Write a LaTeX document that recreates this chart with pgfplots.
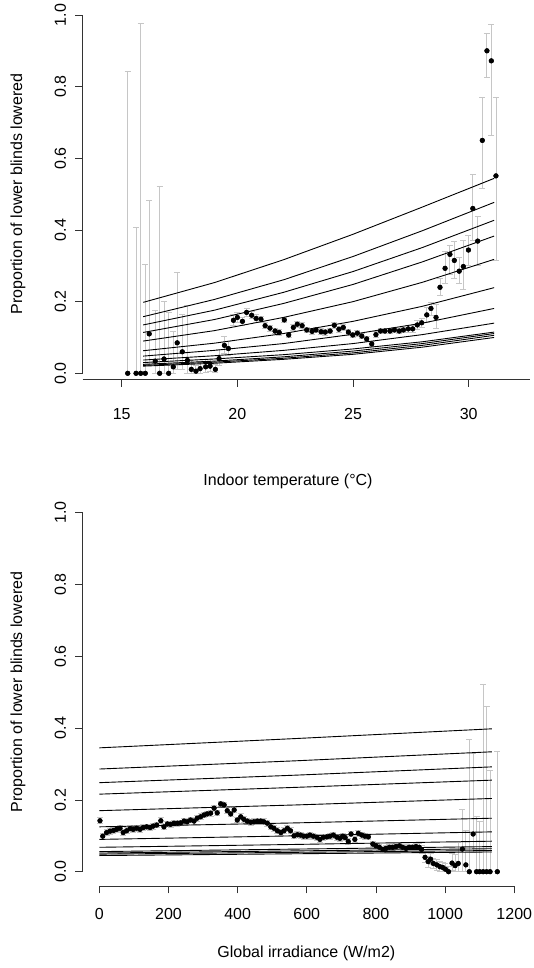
\documentclass[border=0pt]{standalone}
\usepackage{fontspec}
\setmainfont{Liberation Sans}
\usepackage{pgfplots}
\usepackage{pgfplotstable}
\pgfplotsset{compat=1.18}

% ---------- top panel: observed proportions with intervals ----------
\pgfplotstableread[row sep=\\]{
x y ep em\\
15.26 0 0.842 0\\
15.62 0 0.406 0\\
15.82 0 0.975 0\\
16.02 0 0.305 0\\
16.19 0.110 0.373 0.085\\
16.45 0.034 0.141 0.034\\
16.64 0 0.521 0\\
16.83 0.040 0.160 0.040\\
17.03 0 0.169 0\\
17.23 0.018 0.100 0.018\\
17.40 0.085 0.196 0.074\\
17.62 0.060 0.105 0.050\\
17.84 0.036 0.153 0.036\\
18.01 0.011 0.025 0.011\\
18.21 0.006 0.015 0.006\\
18.39 0.013 0.020 0.013\\
18.63 0.018 0.020 0.015\\
18.82 0.020 0.020 0.015\\
19.05 0.011 0.015 0.010\\
19.21 0.041 0.025 0.020\\
19.44 0.078 0.026 0.022\\
19.61 0.069 0.020 0.018\\
19.83 0.148 0.017 0.015\\
20.00 0.156 0.014 0.013\\
20.22 0.145 0.012 0.011\\
20.40 0.170 0.012 0.011\\
20.62 0.162 0.010 0.010\\
20.81 0.153 0.010 0.010\\
21.02 0.151 0.009 0.009\\
21.20 0.133 0.008 0.008\\
21.41 0.126 0.008 0.008\\
21.63 0.118 0.008 0.008\\
21.81 0.114 0.008 0.008\\
22.03 0.149 0.008 0.008\\
22.22 0.107 0.008 0.008\\
22.42 0.128 0.008 0.008\\
22.59 0.137 0.008 0.008\\
22.80 0.133 0.008 0.008\\
23.00 0.121 0.008 0.008\\
23.23 0.117 0.008 0.008\\
23.40 0.121 0.008 0.008\\
23.62 0.116 0.008 0.008\\
23.80 0.115 0.008 0.008\\
24.01 0.118 0.008 0.008\\
24.19 0.134 0.008 0.008\\
24.39 0.123 0.008 0.008\\
24.58 0.128 0.008 0.008\\
24.80 0.115 0.008 0.008\\
24.99 0.107 0.008 0.008\\
25.19 0.112 0.008 0.008\\
25.38 0.104 0.008 0.008\\
25.59 0.096 0.008 0.008\\
25.81 0.082 0.008 0.008\\
25.99 0.108 0.008 0.008\\
26.19 0.118 0.008 0.008\\
26.38 0.118 0.008 0.008\\
26.60 0.118 0.008 0.008\\
26.79 0.121 0.008 0.008\\
27.00 0.118 0.008 0.008\\
27.18 0.121 0.008 0.008\\
27.39 0.124 0.010 0.010\\
27.58 0.124 0.010 0.010\\
27.78 0.135 0.012 0.012\\
27.97 0.141 0.012 0.012\\
28.19 0.163 0.020 0.020\\
28.37 0.181 0.016 0.020\\
28.59 0.156 0.035 0.030\\
28.76 0.240 0.025 0.022\\
28.98 0.293 0.046 0.042\\
29.19 0.332 0.026 0.055\\
29.38 0.315 0.054 0.050\\
29.59 0.285 0.038 0.034\\
29.77 0.298 0.072 0.064\\
29.99 0.344 0.041 0.042\\
30.18 0.460 0.096 0.088\\
30.39 0.369 0.068 0.067\\
30.59 0.650 0.119 0.134\\
30.79 0.900 0.049 0.074\\
30.98 0.872 0.102 0.207\\
31.18 0.551 0.218 0.235\\
}\toptable

% ---------- top panel: fitted curves ----------
\pgfplotstableread[row sep=\\]{
x l1 l2 l3 l4 l5 l6 l7 l8 l9 l10 l11 l12\\
15.93 0.198 0.158 0.135 0.114 0.090 0.063 0.048 0.037 0.030 0.025 0.022 0.020\\
19.00 0.253 0.206 0.176 0.150 0.119 0.084 0.064 0.049 0.040 0.034 0.031 0.028\\
22.00 0.317 0.261 0.226 0.195 0.156 0.111 0.083 0.064 0.052 0.046 0.042 0.039\\
25.00 0.388 0.326 0.284 0.248 0.200 0.145 0.109 0.083 0.068 0.062 0.057 0.053\\
28.00 0.464 0.398 0.351 0.311 0.254 0.187 0.140 0.108 0.088 0.083 0.078 0.073\\
31.10 0.544 0.477 0.427 0.383 0.318 0.239 0.181 0.140 0.115 0.111 0.106 0.100\\
}\toplines

% ---------- bottom panel: observed proportions with intervals ----------
\pgfplotstableread[row sep=\\]{
x y ep em\\
2 0.142 0.008 0.008\\
10 0.099 0.008 0.008\\
21 0.109 0.008 0.008\\
31 0.113 0.008 0.008\\
41 0.115 0.008 0.008\\
50 0.118 0.008 0.008\\
60 0.121 0.008 0.008\\
69 0.109 0.008 0.008\\
79 0.114 0.008 0.008\\
89 0.120 0.008 0.008\\
98 0.118 0.008 0.008\\
108 0.121 0.008 0.008\\
118 0.118 0.008 0.008\\
127 0.123 0.008 0.008\\
137 0.125 0.008 0.008\\
147 0.123 0.008 0.008\\
156 0.127 0.008 0.008\\
166 0.130 0.008 0.008\\
178 0.142 0.008 0.008\\
187 0.125 0.008 0.008\\
197 0.133 0.008 0.008\\
206 0.132 0.008 0.008\\
216 0.135 0.008 0.008\\
226 0.135 0.008 0.008\\
235 0.136 0.008 0.008\\
245 0.141 0.008 0.008\\
254 0.139 0.008 0.008\\
264 0.144 0.008 0.008\\
274 0.141 0.008 0.008\\
283 0.149 0.008 0.008\\
293 0.153 0.008 0.008\\
303 0.158 0.008 0.008\\
312 0.161 0.008 0.008\\
322 0.163 0.008 0.008\\
332 0.177 0.008 0.008\\
341 0.164 0.008 0.008\\
351 0.189 0.008 0.008\\
361 0.186 0.008 0.008\\
370 0.170 0.008 0.008\\
380 0.161 0.008 0.008\\
390 0.172 0.008 0.008\\
399 0.144 0.008 0.008\\
409 0.153 0.008 0.008\\
418 0.146 0.008 0.008\\
428 0.141 0.008 0.008\\
438 0.138 0.008 0.008\\
447 0.139 0.008 0.008\\
457 0.141 0.008 0.008\\
467 0.141 0.008 0.008\\
476 0.139 0.008 0.008\\
486 0.135 0.008 0.008\\
496 0.125 0.008 0.008\\
505 0.121 0.008 0.008\\
515 0.114 0.008 0.008\\
525 0.109 0.008 0.008\\
534 0.114 0.008 0.008\\
544 0.121 0.008 0.008\\
553 0.114 0.008 0.008\\
563 0.100 0.008 0.008\\
573 0.103 0.008 0.008\\
582 0.102 0.008 0.008\\
591 0.099 0.008 0.008\\
600 0.099 0.008 0.008\\
609 0.102 0.008 0.008\\
619 0.099 0.008 0.008\\
629 0.096 0.008 0.008\\
638 0.090 0.008 0.008\\
648 0.096 0.008 0.008\\
658 0.097 0.008 0.008\\
667 0.099 0.008 0.008\\
677 0.102 0.008 0.008\\
687 0.096 0.008 0.008\\
696 0.093 0.008 0.008\\
704 0.099 0.008 0.008\\
711 0.095 0.008 0.008\\
720 0.084 0.008 0.008\\
728 0.105 0.008 0.008\\
739 0.090 0.008 0.008\\
749 0.107 0.008 0.008\\
759 0.102 0.008 0.008\\
768 0.099 0.008 0.008\\
778 0.097 0.008 0.008\\
791 0.077 0.008 0.008\\
800 0.072 0.008 0.008\\
810 0.068 0.008 0.008\\
820 0.062 0.008 0.008\\
829 0.065 0.008 0.008\\
839 0.068 0.008 0.008\\
848 0.068 0.008 0.008\\
858 0.070 0.008 0.008\\
868 0.072 0.008 0.008\\
877 0.068 0.008 0.008\\
887 0.065 0.008 0.008\\
896 0.068 0.008 0.008\\
906 0.068 0.008 0.008\\
916 0.070 0.008 0.008\\
925 0.068 0.010 0.010\\
932 0.062 0.010 0.010\\
942 0.040 0.015 0.015\\
951 0.028 0.015 0.015\\
958 0.035 0.015 0.015\\
966 0.023 0.015 0.015\\
976 0.019 0.015 0.015\\
985 0.014 0.015 0.014\\
993 0.012 0.015 0.012\\
1001 0.007 0.015 0.007\\
1010 0.000 0.015 0.000\\
1020 0.024 0.028 0.020\\
1029 0.017 0.030 0.017\\
1038 0.023 0.058 0.023\\
1050 0.063 0.111 0.063\\
1060 0.019 0.097 0.019\\
1070 0.000 0.369 0.000\\
1081 0.105 0.225 0.050\\
1091 0.000 0.153 0.000\\
1100 0.000 0.141 0.000\\
1110 0.000 0.522 0.000\\
1120 0.000 0.460 0.000\\
1130 0.000 0.283 0.000\\
1151 0.000 0.334 0.000\\
}\bottable

% ---------- bottom panel: fitted lines ----------
\pgfplotstableread[row sep=\\]{
x l1 l2 l3 l4 l5 l6 l7 l8 l9 l10 l11 l12\\
0 0.345 0.286 0.248 0.216 0.170 0.125 0.090 0.068 0.056 0.052 0.049 0.045\\
570 0.371 0.309 0.269 0.235 0.186 0.136 0.100 0.076 0.063 0.058 0.054 0.050\\
1135 0.398 0.334 0.292 0.255 0.204 0.149 0.111 0.085 0.070 0.064 0.059 0.055\\
}\botlines

\pgfplotsset{
  rstyle/.style={
    scale only axis, clip=false,
    axis lines*=left,
    axis line style={draw=none},
    tick align=outside,
    major tick length=7.5pt,
    tick style={black!80, line width=0.8pt},
    tick label style={font=\fontsize{16}{19}\selectfont},
    label style={font=\fontsize{16}{19}\selectfont},
    /pgf/number format/assume math mode=true,
    scaled ticks=false,
    ytick={0,0.2,0.4,0.6,0.8,1},
    yticklabels={0.0,0.2,0.4,0.6,0.8,1.0},
    yticklabel style={rotate=90, anchor=south, inner sep=9pt},
    xticklabel style={anchor=north},
  },
  ebar/.style={only marks, mark=none, forget plot,
    error bars/.cd, y dir=both, y explicit,
    error bar style={draw=gray!45, line width=0.9pt},
    error mark options={rotate=90, draw=gray!45, mark size=3pt, line width=0.9pt}},
  fit/.style={black, line width=0.9pt, mark=none, forget plot},
  dots/.style={only marks, mark=*, mark size=2.4pt, black, fill=black, forget plot},
}

\begin{document}
\begin{tikzpicture}
\useasboundingbox (0,0) rectangle (533pt,968pt);

% ================= top panel =================
\begin{axis}[rstyle,
  at={(82.7pt,588.7pt)}, anchor=south west,
  width=447.3pt, height=364.3pt,
  xmin=13.314, xmax=32.652, ymin=-0.0167, ymax=1,
  xtick={15,20,25,30},
  xticklabel style={yshift=-18pt},
  xlabel={Indoor temperature (°C)},
  xlabel style={at={(axis description cs:0.459,-0.28)}, anchor=center},
  ylabel={Proportion of lower blinds lowered},
  ylabel style={at={(axis description cs:-0.1446,0.5087)}, anchor=center, rotate=0},
]
\addplot[ebar] table[x=x, y=y, y error plus=ep, y error minus=em] {\toptable};
\foreach \c in {l1,l2,l3,l4,l5,l6,l7,l8,l9,l10,l11,l12}{
  \addplot[fit] table[x=x, y=\c] {\toplines};
}
\addplot[dots] table[x=x, y=y] {\toptable};
\draw[black!80, line width=0.8pt] (13.314,-0.0167) -- (32.652,-0.0167);
\draw[black!80, line width=0.8pt] (13.314,0) -- (13.314,1);
\end{axis}

% ================= bottom panel =================
\begin{axis}[rstyle,
  at={(82.7pt,82pt)}, anchor=south west,
  width=447.3pt, height=373.3pt,
  xmin=-48, xmax=1245.5, ymin=-0.0398, ymax=1,
  xtick={0,200,400,600,800,1000,1200},
  xticklabels={0,200,400,600,800,1000,1200},
  xticklabel style={yshift=-11.5pt},
  xlabel={Global irradiance (W/m2)},
  xlabel style={at={(axis description cs:0.5,-0.18)}, anchor=center},
  ylabel={Proportion of lower blinds lowered},
  ylabel style={at={(axis description cs:-0.1446,0.5197)}, anchor=center, rotate=0},
]
\addplot[ebar] table[x=x, y=y, y error plus=ep, y error minus=em] {\bottable};
\foreach \c in {l1,l2,l3,l4,l5,l6,l7,l8,l9,l10,l11,l12}{
  \addplot[fit] table[x=x, y=\c] {\botlines};
}
\addplot[dots] table[x=x, y=y] {\bottable};
\draw[black!80, line width=0.8pt] (0,-0.0398) -- (1200,-0.0398);
\draw[black!80, line width=0.8pt] (-48,0) -- (-48,1);
\end{axis}
\end{tikzpicture}
\end{document}
